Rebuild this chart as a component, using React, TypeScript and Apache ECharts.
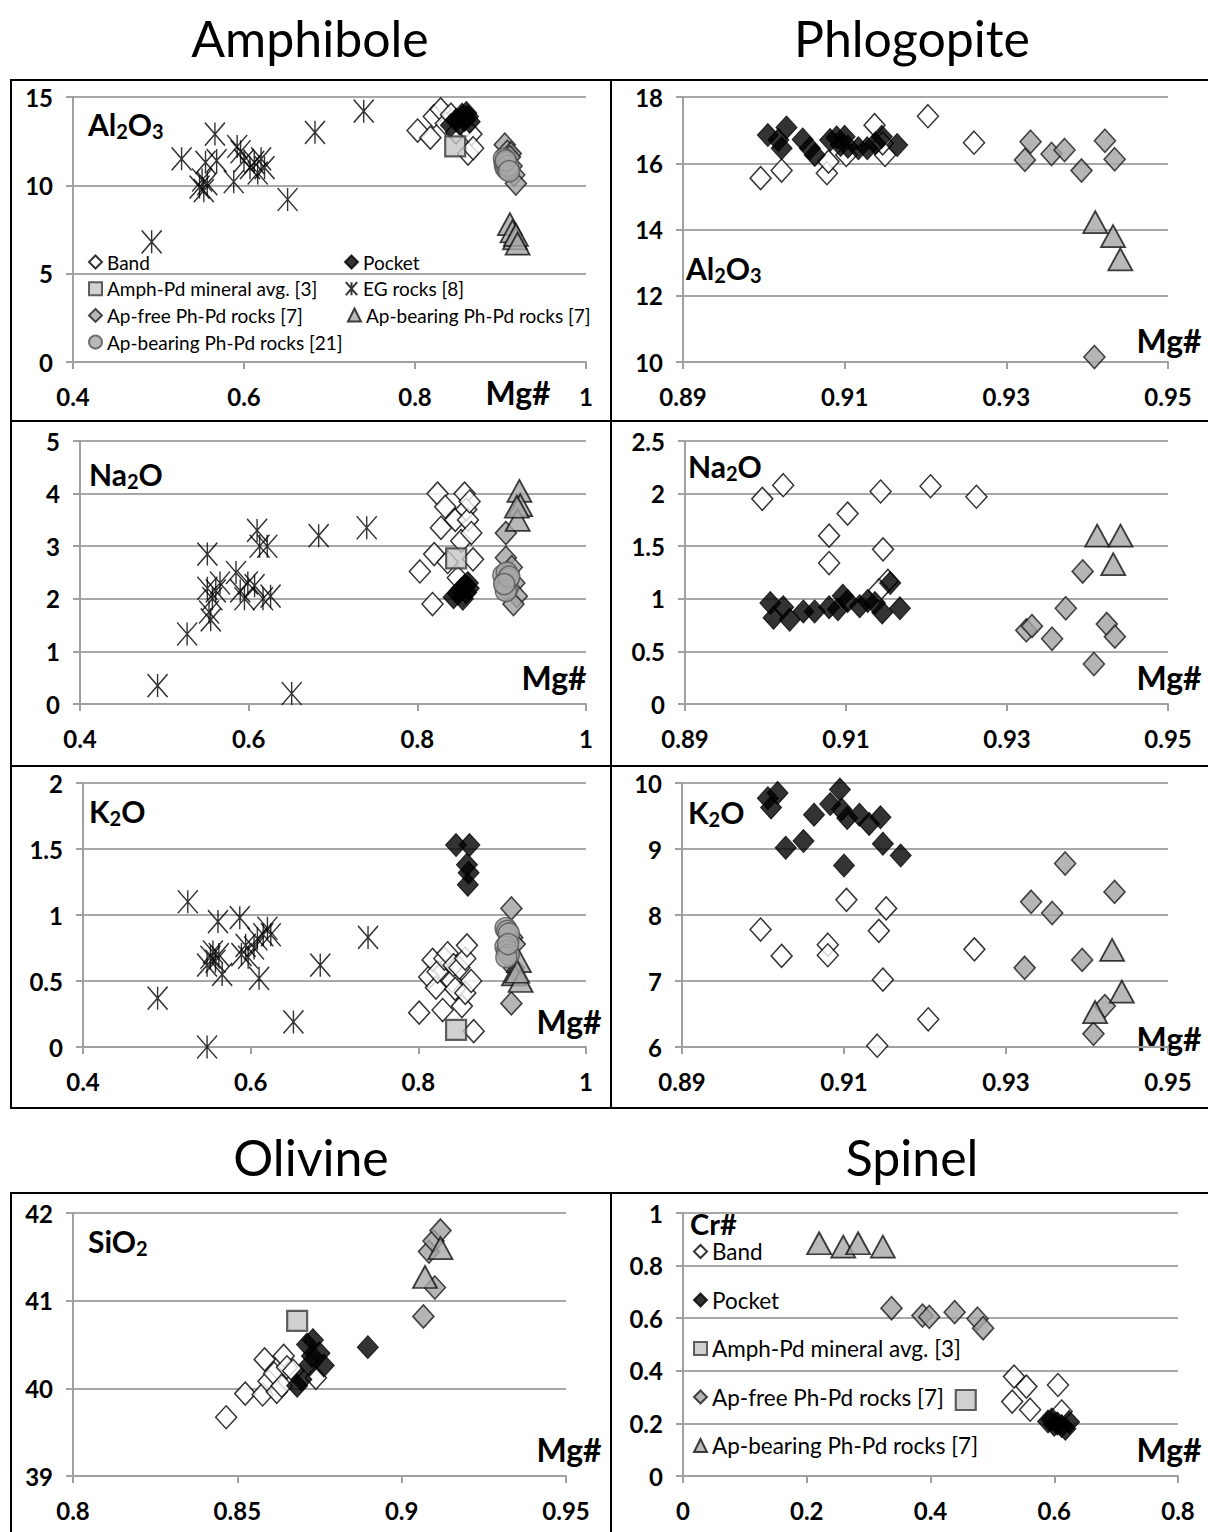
import React, { useEffect, useRef } from "react";
import * as echarts from "echarts";

type Pt = [number, number];

// ---------------- Series names ----------------
const N_BAND = "Band";
const N_POCKET = "Pocket";
const N_SQ = "Amph-Pd mineral avg. [3]";
const N_EG = "EG rocks [8]";
const N_FREE = "Ap-free Ph-Pd rocks [7]";
const N_TRI = "Ap-bearing Ph-Pd rocks [7]";
const N_CIRC = "Ap-bearing Ph-Pd rocks [21]";

// ---------------- Amphibole Al2O3 ----------------
const amphAlBand: Pt[] = [[0.803,13.1],[0.818,12.7],[0.822,13.9],[0.830,14.3],[0.836,13.5],[0.842,14.0],[0.848,13.0],[0.855,13.8],[0.858,13.3],[0.862,11.8],[0.866,12.9],[0.868,12.1]];
const amphAlPocket: Pt[] = [[0.842,13.4],[0.848,13.7],[0.852,13.5],[0.855,14.0],[0.858,13.7],[0.860,14.1],[0.862,13.9],[0.864,13.6]];
const amphAlSq: Pt[] = [[0.847,12.2]];
const amphAlEG: Pt[] = [[0.492,6.8],[0.527,11.5],[0.548,9.9],[0.551,10.3],[0.553,9.7],[0.555,11.3],[0.557,10.1],[0.566,12.9],[0.568,11.4],[0.588,10.2],[0.592,12.2],[0.596,11.9],[0.600,11.4],[0.607,11.0],[0.612,11.3],[0.616,10.7],[0.620,11.5],[0.624,11.0],[0.651,9.2],[0.683,13.0],[0.740,14.2]];
const amphAlFree: Pt[] = [[0.905,12.3],[0.908,11.9],[0.912,11.8],[0.911,11.6],[0.913,11.1],[0.916,10.6],[0.918,10.1]];
const amphAlTri: Pt[] = [[0.911,7.8],[0.914,7.4],[0.917,7.0],[0.918,7.2],[0.920,6.7]];
const amphAlCirc: Pt[] = [[0.904,11.5],[0.905,11.2],[0.906,11.0],[0.907,11.3],[0.908,10.9],[0.909,11.1],[0.906,11.4],[0.910,10.8]];

// ---------------- Amphibole Na2O ----------------
const amphNaBand: Pt[] = [[0.803,2.52],[0.818,1.9],[0.820,2.85],[0.824,4.0],[0.828,3.35],[0.833,3.75],[0.836,2.7],[0.845,3.5],[0.848,2.4],[0.852,3.1],[0.856,4.0],[0.858,3.7],[0.860,3.5],[0.864,3.25],[0.866,2.75],[0.862,3.85]];
const amphNaPocket: Pt[] = [[0.843,2.03],[0.848,2.1],[0.852,2.18],[0.856,2.25],[0.858,2.12],[0.861,2.2],[0.854,2.0],[0.860,2.3]];
const amphNaSq: Pt[] = [[0.846,2.77]];
const amphNaEG: Pt[] = [[0.492,0.35],[0.527,1.33],[0.551,2.85],[0.551,2.2],[0.553,1.75],[0.555,1.6],[0.557,2.0],[0.561,2.15],[0.566,2.3],[0.585,2.5],[0.590,2.15],[0.595,2.0],[0.599,2.3],[0.607,2.25],[0.610,3.3],[0.613,3.0],[0.617,2.0],[0.622,3.0],[0.626,2.05],[0.651,0.2],[0.683,3.2],[0.740,3.35]];
const amphNaFree: Pt[] = [[0.905,3.25],[0.905,2.78],[0.908,2.5],[0.912,2.6],[0.915,2.3],[0.918,2.05],[0.914,1.9]];
const amphNaTri: Pt[] = [[0.921,4.05],[0.922,3.78],[0.919,3.5],[0.918,3.75]];
const amphNaCirc: Pt[] = [[0.902,2.45],[0.904,2.3],[0.906,2.5],[0.907,2.2],[0.908,2.38],[0.905,2.15],[0.909,2.42],[0.903,2.28]];

// ---------------- Amphibole K2O ----------------
const amphKBand: Pt[] = [[0.801,0.26],[0.813,0.53],[0.817,0.66],[0.821,0.45],[0.823,0.57],[0.829,0.28],[0.831,0.67],[0.835,0.71],[0.840,0.5],[0.842,0.62],[0.844,0.44],[0.849,0.6],[0.852,0.31],[0.856,0.41],[0.856,0.67],[0.858,0.77],[0.863,0.5],[0.866,0.12]];
const amphKPocket: Pt[] = [[0.845,1.53],[0.861,1.53],[0.858,1.38],[0.860,1.32],[0.859,1.23]];
const amphKSq: Pt[] = [[0.845,0.13]];
const amphKEG: Pt[] = [[0.489,0.37],[0.525,1.1],[0.548,0.0],[0.548,0.62],[0.552,0.68],[0.555,0.72],[0.558,0.65],[0.562,0.7],[0.561,0.95],[0.566,0.55],[0.587,0.98],[0.589,0.7],[0.594,0.77],[0.597,0.68],[0.604,0.75],[0.608,0.82],[0.610,0.52],[0.615,0.85],[0.620,0.9],[0.624,0.85],[0.651,0.19],[0.683,0.62],[0.740,0.83]];
const amphKFree: Pt[] = [[0.911,1.05],[0.912,0.83],[0.915,0.78],[0.911,0.33],[0.914,0.6]];
const amphKTri: Pt[] = [[0.920,0.65],[0.914,0.55],[0.922,0.5],[0.918,0.57]];
const amphKCirc: Pt[] = [[0.904,0.9],[0.906,0.88],[0.908,0.86],[0.904,0.76],[0.906,0.73],[0.908,0.7],[0.905,0.68],[0.907,0.78]];

// ---------------- Phlogopite Al2O3 ----------------
const phlAlBand: Pt[] = [[0.8996,15.55],[0.9022,15.78],[0.9078,15.7],[0.9080,16.05],[0.9102,16.25],[0.9137,17.15],[0.9150,16.25],[0.9147,16.6],[0.9203,17.42],[0.9260,16.62]];
const phlAlPocket: Pt[] = [[0.9005,16.85],[0.9018,16.7],[0.9022,16.45],[0.9028,17.08],[0.9048,16.72],[0.9057,16.45],[0.9063,16.25],[0.9082,16.7],[0.9090,16.78],[0.9095,16.55],[0.9100,16.8],[0.9104,16.5],[0.9117,16.45],[0.9128,16.45],[0.9138,16.6],[0.9146,16.8],[0.9165,16.55]];
const phlAlFree: Pt[] = [[0.9330,16.65],[0.9323,16.1],[0.9356,16.28],[0.9372,16.4],[0.9393,15.78],[0.9422,16.68],[0.9434,16.12],[0.9409,10.15]];
const phlAlTri: Pt[] = [[0.9410,14.22],[0.9432,13.8],[0.9441,13.1]];

// ---------------- Phlogopite Na2O ----------------
const phlNaBand: Pt[] = [[0.8996,1.95],[0.9022,2.08],[0.9079,1.6],[0.9079,1.34],[0.9102,1.81],[0.9143,2.02],[0.9146,1.47],[0.9152,1.17],[0.9141,1.08],[0.9205,2.07],[0.9262,1.97]];
const phlNaPocket: Pt[] = [[0.9006,0.96],[0.9010,0.82],[0.9022,0.92],[0.9030,0.8],[0.9047,0.88],[0.9061,0.88],[0.9079,0.92],[0.9090,0.9],[0.9096,1.03],[0.9102,0.98],[0.9117,0.93],[0.9127,0.98],[0.9136,0.96],[0.9145,0.87],[0.9155,1.15],[0.9167,0.91]];
const phlNaFree: Pt[] = [[0.9324,0.7],[0.9331,0.74],[0.9356,0.62],[0.9373,0.91],[0.9394,1.26],[0.9408,0.38],[0.9424,0.76],[0.9434,0.64]];
const phlNaTri: Pt[] = [[0.9412,1.6],[0.9441,1.6],[0.9432,1.33]];

// ---------------- Phlogopite K2O ----------------
const phlKBand: Pt[] = [[0.8997,7.78],[0.9023,7.38],[0.9080,7.55],[0.9080,7.39],[0.9103,8.23],[0.9143,7.76],[0.9152,8.1],[0.9148,7.02],[0.9141,6.02],[0.9204,6.42],[0.9261,7.48]];
const phlKPocket: Pt[] = [[0.9006,9.77],[0.9010,9.63],[0.9018,9.85],[0.9028,9.02],[0.9050,9.12],[0.9063,9.52],[0.9083,9.68],[0.9095,9.9],[0.9097,9.6],[0.9104,9.47],[0.9100,8.75],[0.9119,9.52],[0.9131,9.38],[0.9145,9.48],[0.9148,9.08],[0.9170,8.9]];
const phlKFree: Pt[] = [[0.9323,7.2],[0.9331,8.2],[0.9357,8.03],[0.9373,8.78],[0.9394,7.32],[0.9408,6.2],[0.9422,6.62],[0.9434,8.35]];
const phlKTri: Pt[] = [[0.9410,6.53],[0.9431,7.47],[0.9443,6.84]];

// ---------------- Olivine SiO2 ----------------
const olBand: Pt[] = [[0.8466,39.67],[0.8524,39.94],[0.8577,39.93],[0.8583,40.33],[0.8595,40.08],[0.8612,40.17],[0.8620,39.96],[0.8641,40.37],[0.8651,40.24],[0.8635,40.03],[0.8670,40.2],[0.8739,40.12]];
const olPocket: Pt[] = [[0.8682,40.03],[0.8695,40.1],[0.8712,40.5],[0.8730,40.55],[0.8727,40.37],[0.8750,40.4],[0.8720,40.27],[0.8763,40.26],[0.8897,40.47]];
const olSq: Pt[] = [[0.8682,40.77]];
const olFree: Pt[] = [[0.9066,40.82],[0.9101,41.15],[0.9083,41.56],[0.9097,41.68],[0.9118,41.8]];
const olTri: Pt[] = [[0.9071,41.27],[0.9118,41.6]];

// ---------------- Spinel Cr# ----------------
const spBand: Pt[] = [[0.535,0.378],[0.555,0.34],[0.532,0.283],[0.561,0.252],[0.606,0.346],[0.612,0.245]];
const spPocket: Pt[] = [[0.590,0.207],[0.600,0.195],[0.605,0.2],[0.612,0.19],[0.618,0.18],[0.624,0.205],[0.596,0.215]];
const spSq: Pt[] = [[0.457,0.289]];
const spFree: Pt[] = [[0.337,0.638],[0.387,0.61],[0.398,0.605],[0.439,0.623],[0.476,0.598],[0.485,0.562]];
const spTri: Pt[] = [[0.220,0.885],[0.259,0.872],[0.283,0.885],[0.323,0.872]];

// ---------------- Axis ranges ----------------
const AMPH_X = { min: 0.4, max: 1, interval: 0.2 };
const PHL_X = { min: 0.89, max: 0.95, interval: 0.02 };
const OL_X = { min: 0.8, max: 0.95, interval: 0.05 };
const SP_X = { min: 0, max: 0.8, interval: 0.2 };

const FONT = "Lato, 'Open Sans', 'DejaVu Sans', sans-serif";

const STY: Record<string, any> = {
  [N_BAND]: { symbol: "diamond", symbolSize: [21, 23], itemStyle: { color: "#ffffff", borderColor: "#000", borderWidth: 1.5 } },
  [N_POCKET]: { symbol: "diamond", symbolSize: [21, 23], itemStyle: { color: "#000", borderColor: "#000", borderWidth: 1 } },
  [N_SQ]: { symbol: "rect", symbolSize: 20, itemStyle: { color: "#c6c6c6", borderColor: "#3a3a3a", borderWidth: 2.2 } },
  [N_EG]: { symbol: "path://M0,0L20,23M20,0L0,23M10,0L10,23", symbolSize: [20, 23], itemStyle: { color: "rgba(0,0,0,0)", borderColor: "#000", borderWidth: 1.5 } },
  [N_FREE]: { symbol: "diamond", symbolSize: [21, 23], itemStyle: { color: "#a3a3a3", borderColor: "#1a1a1a", borderWidth: 1.6 } },
  [N_TRI]: { symbol: "triangle", symbolSize: [24, 22], itemStyle: { color: "#a8a8a8", borderColor: "#111", borderWidth: 1.8 } },
  [N_CIRC]: { symbol: "circle", symbolSize: 21, itemStyle: { color: "#a8a8a8", borderColor: "#555", borderWidth: 1.5 } },
};

type Panel = {
  grid: [number, number, number, number];
  x: { min: number; max: number; interval: number };
  y: { min: number; max: number; interval: number };
  series: [string, Pt[]][];
};

const PANELS: Panel[] = [
  { grid: [73, 97, 513, 265], x: AMPH_X, y: { min: 0, max: 15, interval: 5 },
    series: [[N_BAND, amphAlBand], [N_POCKET, amphAlPocket], [N_SQ, amphAlSq], [N_EG, amphAlEG], [N_FREE, amphAlFree], [N_TRI, amphAlTri], [N_CIRC, amphAlCirc]] },
  { grid: [683, 97, 485, 265], x: PHL_X, y: { min: 10, max: 18, interval: 2 },
    series: [[N_BAND, phlAlBand], [N_POCKET, phlAlPocket], [N_FREE, phlAlFree], [N_TRI, phlAlTri]] },
  { grid: [80, 441, 506, 263], x: AMPH_X, y: { min: 0, max: 5, interval: 1 },
    series: [[N_BAND, amphNaBand], [N_POCKET, amphNaPocket], [N_SQ, amphNaSq], [N_EG, amphNaEG], [N_FREE, amphNaFree], [N_TRI, amphNaTri], [N_CIRC, amphNaCirc]] },
  { grid: [685, 441, 483, 263], x: PHL_X, y: { min: 0, max: 2.5, interval: 0.5 },
    series: [[N_BAND, phlNaBand], [N_POCKET, phlNaPocket], [N_FREE, phlNaFree], [N_TRI, phlNaTri]] },
  { grid: [83, 783, 503, 264], x: AMPH_X, y: { min: 0, max: 2, interval: 0.5 },
    series: [[N_BAND, amphKBand], [N_POCKET, amphKPocket], [N_SQ, amphKSq], [N_EG, amphKEG], [N_FREE, amphKFree], [N_TRI, amphKTri], [N_CIRC, amphKCirc]] },
  { grid: [682, 783, 486, 264], x: PHL_X, y: { min: 6, max: 10, interval: 1 },
    series: [[N_BAND, phlKBand], [N_POCKET, phlKPocket], [N_FREE, phlKFree], [N_TRI, phlKTri]] },
  { grid: [73, 1213, 493, 263], x: OL_X, y: { min: 39, max: 42, interval: 1 },
    series: [[N_BAND, olBand], [N_POCKET, olPocket], [N_SQ, olSq], [N_FREE, olFree], [N_TRI, olTri]] },
  { grid: [683, 1213, 495, 263], x: SP_X, y: { min: 0, max: 1, interval: 0.2 },
    series: [[N_BAND, spBand], [N_POCKET, spPocket], [N_SQ, spSq], [N_FREE, spFree], [N_TRI, spTri]] },
];

// label texts
const TITLES: [string, number, number][] = [["Amphibole", 310, 38], ["Phlogopite", 912, 38], ["Olivine", 311, 1157], ["Spinel", 912, 1157]];
const MG_LABELS: [number, number][] = [[518, 392], [1169, 340], [554, 677], [1169, 677], [569, 1021], [1169, 1038], [569, 1449], [1169, 1449]];
const OXIDES: [string, number, number][] = [
  ["{m|Al}{s|2}{m|O}{s|3}", 88, 124],
  ["{m|Al}{s|2}{m|O}{s|3}", 686, 268],
  ["{m|Na}{s|2}{m|O}", 89, 474],
  ["{m|Na}{s|2}{m|O}", 688, 466],
  ["{m|K}{s|2}{m|O}", 89, 811],
  ["{m|K}{s|2}{m|O}", 688, 812],
  ["{m|SiO}{s|2}", 88, 1241],
];
const CR_LABEL: [string, number, number] = ["Cr#", 690, 1223];

const FRAME: [number, number, number, number][] = [
  [10, 80, 1208, 80], [11, 80, 11, 1108], [10, 1108, 1208, 1108], [611, 80, 611, 1108],
  [10, 421, 1208, 421], [10, 766, 1208, 766],
  [10, 1193, 1208, 1193], [11, 1193, 11, 1532], [611, 1193, 611, 1532],
];

function buildOption() {
  const grid: any[] = [];
  const xAxis: any[] = [];
  const yAxis: any[] = [];
  const series: any[] = [];
  const axisCommon = (i: number) => ({
    gridIndex: i,
    type: "value",
    axisLine: { show: true, onZero: false, lineStyle: { color: "#a0a0a0", width: 2 } },
    axisTick: { show: true, length: 7, lineStyle: { color: "#a0a0a0", width: 2 } },
    axisLabel: { color: "#000", fontFamily: FONT, fontWeight: "bold", fontSize: 24 },
  });
  PANELS.forEach((p, i) => {
    grid.push({ left: p.grid[0], top: p.grid[1], width: p.grid[2], height: p.grid[3], containLabel: false, outerBoundsMode: "none" });
    const xa: any = axisCommon(i);
    xAxis.push({ ...xa, min: p.x.min, max: p.x.max, interval: p.x.interval, splitLine: { show: false }, axisLabel: { ...xa.axisLabel, margin: 22 } });
    const ya: any = axisCommon(i);
    yAxis.push({ ...ya, min: p.y.min, max: p.y.max, interval: p.y.interval, splitLine: { show: true, lineStyle: { color: "#a8a8a8", width: 2 } }, axisLabel: { ...ya.axisLabel, margin: 20 } });
    p.series.forEach(([name, data]) => {
      const s = STY[name];
      series.push({
        type: "scatter", name, xAxisIndex: i, yAxisIndex: i, data,
        symbol: s.symbol, symbolSize: s.symbolSize, itemStyle: s.itemStyle,
        silent: true, emphasis: { disabled: true },
      });
    });
  });

  const legendBase = {
    orient: "vertical", padding: 0, selectedMode: false, itemWidth: 13, itemHeight: 13,
    textStyle: { color: "#000", fontFamily: FONT, fontSize: 19, lineHeight: 20 },
    itemGap: 6.7,
  };
  const legend = [
    { ...legendBase, left: 88, top: 252, data: [N_BAND, N_SQ, N_FREE, N_CIRC] },
    { ...legendBase, left: 344, top: 252, data: [N_POCKET, N_EG] },
    { ...legendBase, left: 347, top: 305, data: [N_TRI] },
    { ...legendBase, left: 693, top: 1239, itemGap: 23.5, textStyle: { color: "#000", fontFamily: FONT, fontSize: 22.5, lineHeight: 25 }, data: [N_BAND, N_POCKET, N_SQ, N_FREE, N_TRI] },
  ];

  const graphic: any[] = [];
  FRAME.forEach(([x1, y1, x2, y2]) => graphic.push({ type: "line", shape: { x1, y1, x2, y2 }, style: { stroke: "#000", lineWidth: 2 }, silent: true }));
  TITLES.forEach(([t, x, y]) => graphic.push({ type: "text", x, y, style: { text: t, fill: "#000", font: `50px ${FONT}`, align: "center", verticalAlign: "middle" } }));
  MG_LABELS.forEach(([x, y]) => graphic.push({ type: "text", x, y, style: { text: "Mg#", fill: "#000", font: `bold 32px ${FONT}`, align: "center", verticalAlign: "middle" } }));
  OXIDES.forEach(([t, x, y]) => graphic.push({
    type: "text", x, y,
    style: {
      text: t, fill: "#000", align: "left", verticalAlign: "middle",
      rich: {
        m: { fontSize: 30, fontWeight: "bold", fontFamily: FONT, lineHeight: 34, fill: "#000" },
        s: { fontSize: 20, fontWeight: "bold", fontFamily: FONT, lineHeight: 12, verticalAlign: "bottom", fill: "#000" },
      },
    },
  }));
  graphic.push({
    type: "text", x: CR_LABEL[1], y: CR_LABEL[2],
    style: { text: CR_LABEL[0], fill: "#000", font: `bold 29px ${FONT}`, lineHeight: 26, align: "left", verticalAlign: "middle" },
  });

  return { animation: false, backgroundColor: "#fff", grid, xAxis, yAxis, series, legend, graphic };
}

export default function App() {
  const ref = useRef<HTMLDivElement>(null);
  useEffect(() => {
    if (!ref.current) return;
    const chart = echarts.init(ref.current, undefined, { renderer: "svg" });
    chart.setOption(buildOption() as any);
    return () => chart.dispose();
  }, []);
  return <div ref={ref} style={{ position: "absolute", left: 0, top: 0, width: 1208, height: 1532 }} />;
}
